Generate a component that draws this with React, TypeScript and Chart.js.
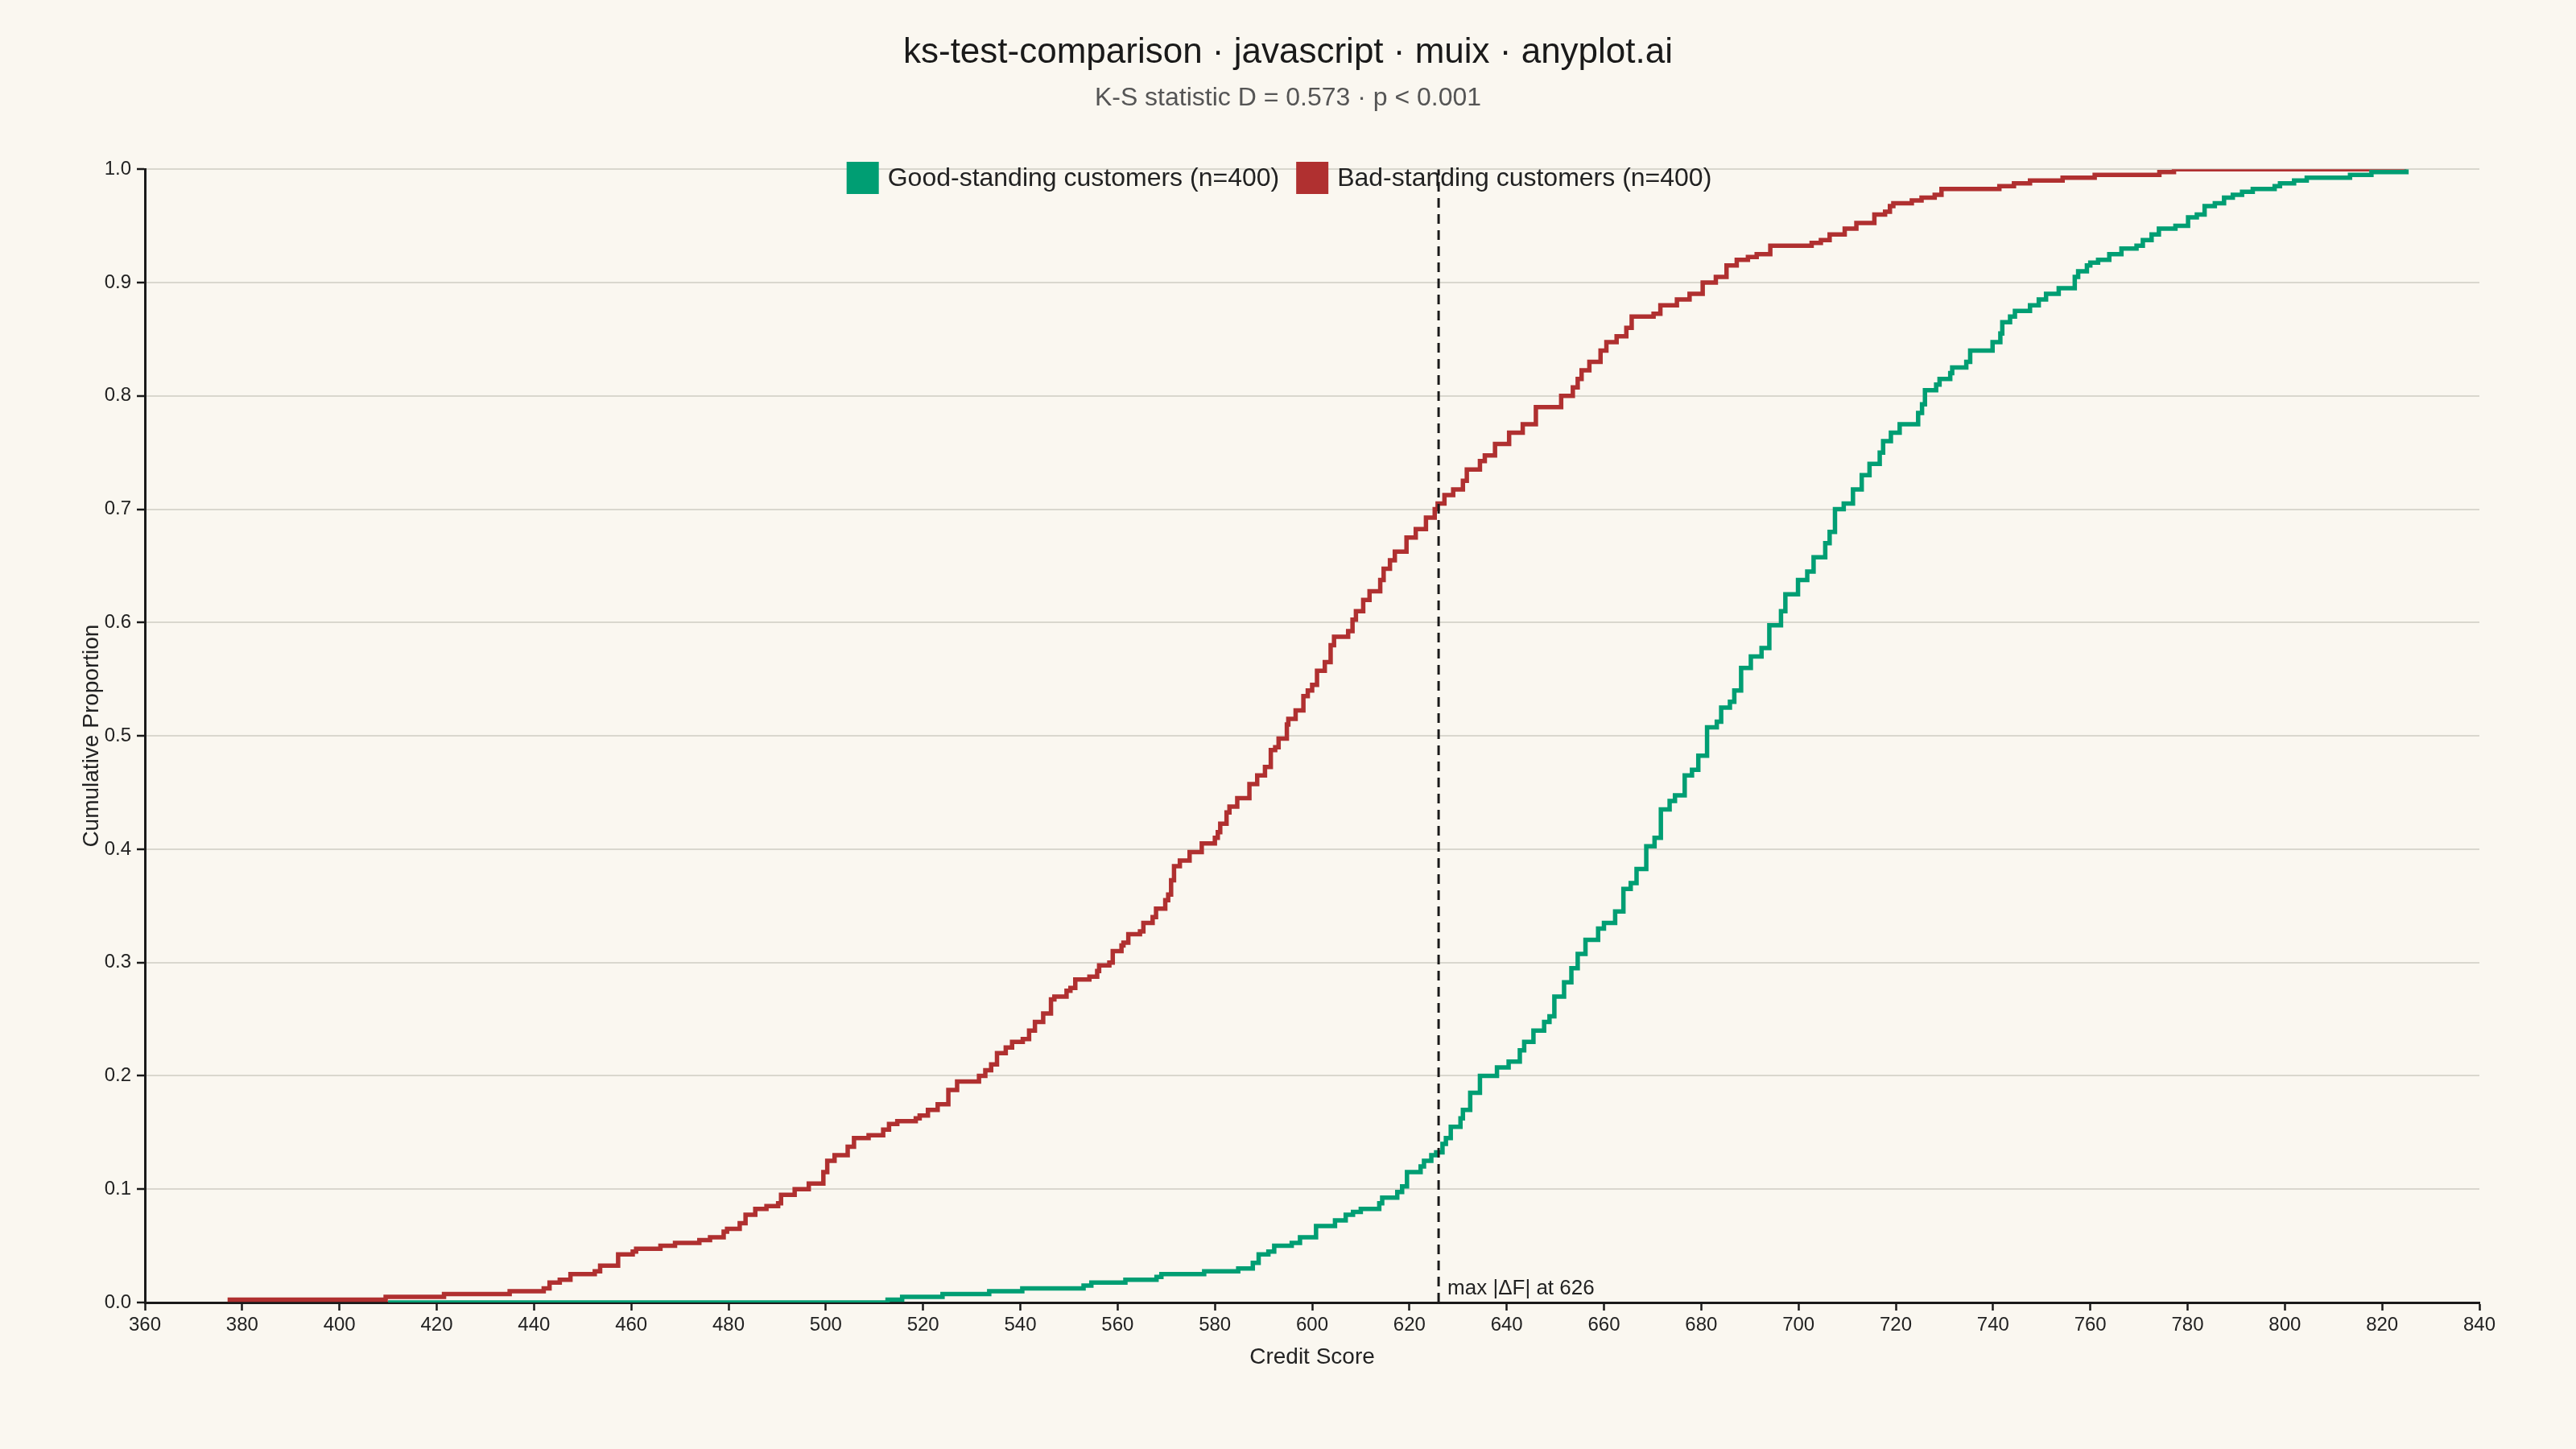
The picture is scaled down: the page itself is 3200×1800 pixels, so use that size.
import { useEffect, useRef } from "react";
import { Chart, registerables, Plugin } from "chart.js";

Chart.register(...registerables);

// Good-standing customers: credit score where the ECDF steps, and the proportion after the step
const goodScore = [
  410, 512.7, 515.7, 524, 533.6, 540.4, 553, 554.6, 561.6, 568, 569, 577.8, 584.8, 587.8, 589, 591,
  592.2, 595.8, 597.5, 600.8, 604.7, 606.9, 608.4, 610, 613.8, 614.4, 617.5, 618.5, 619.5, 622.3,
  623, 624.5, 625.5, 626.8, 627.5, 628.5, 630.5, 631, 632.5, 634.5, 638, 640.4, 642.7, 643.6, 645.5,
  647.7, 648.8, 649.8, 651.8, 653.3, 654.6, 656.2, 658.8, 660, 662.3, 664, 665.5, 666.7, 668.7,
  670.4, 671.7, 673.5, 674.6, 676.6, 678.1, 679.4, 681.2, 683.2, 684.1, 685.9, 686.8, 688.2, 690.2,
  692.4, 694, 696.4, 697.3, 699.9, 701.8, 703.1, 705.5, 706.4, 707.5, 709.3, 711.2, 713, 714.6,
  716.7, 717.4, 719, 720.8, 724.6, 725.4, 726, 728.3, 729, 731.2, 731.6, 734.5, 735.3, 739.9, 741.5,
  741.9, 743.5, 744.5, 747.6, 749.4, 750.9, 753.5, 756.8, 757.5, 759.3, 760, 761.6, 763.9, 766.4,
  769.5, 770.8, 772.6, 774.1, 777.5, 780.1, 781.9, 783.5, 785.6, 787.5, 789.3, 791.2, 793.4, 797.9,
  799, 801.9, 804.5, 813.4, 817.8, 825,
];
const goodCdf = [
  0, 0.0025, 0.005, 0.0075, 0.01, 0.0125, 0.015, 0.0175, 0.02, 0.0225, 0.025, 0.0275, 0.03, 0.035,
  0.0425, 0.045, 0.05, 0.0525, 0.0575, 0.0675, 0.0725, 0.0775, 0.08, 0.0825, 0.0875, 0.0925, 0.0975,
  0.1025, 0.115, 0.12, 0.125, 0.13, 0.1325, 0.14, 0.145, 0.155, 0.1625, 0.17, 0.185, 0.2, 0.2075,
  0.2125, 0.2225, 0.23, 0.24, 0.2475, 0.2525, 0.27, 0.2825, 0.295, 0.3075, 0.32, 0.33, 0.335, 0.345,
  0.365, 0.37, 0.3825, 0.4025, 0.41, 0.435, 0.4425, 0.4475, 0.465, 0.47, 0.4825, 0.5075, 0.5125,
  0.525, 0.53, 0.54, 0.56, 0.57, 0.5775, 0.5975, 0.61, 0.625, 0.6375, 0.645, 0.6575, 0.67, 0.68,
  0.7, 0.705, 0.7175, 0.73, 0.74, 0.75, 0.76, 0.7675, 0.775, 0.785, 0.7925, 0.805, 0.81, 0.815, 0.82,
  0.825, 0.83, 0.84, 0.8475, 0.855, 0.865, 0.87, 0.875, 0.88, 0.885, 0.89, 0.895, 0.905, 0.91, 0.915,
  0.9175, 0.92, 0.925, 0.93, 0.9325, 0.9375, 0.9425, 0.9475, 0.95, 0.9575, 0.96, 0.9675, 0.97, 0.975,
  0.9775, 0.98, 0.9825, 0.985, 0.9875, 0.99, 0.9925, 0.995, 0.9975, 1,
];

// Bad-standing customers
const badScore = [
  377, 409.5, 421.5, 435, 442, 443.2, 445.3, 447.5, 452.5, 453.6, 457.3, 460.3, 461, 466, 469, 474,
  476.2, 479, 479.7, 482.3, 483.5, 485.5, 487.8, 490.2, 490.8, 493.6, 496.5, 499.5, 500.3, 501.8,
  504.5, 505.8, 508.8, 511.8, 513, 514.7, 518.5, 519.3, 521, 523, 525.2, 527, 531.5, 532.8, 534,
  535.2, 537, 538.3, 540.5, 541.8, 543, 544.7, 546.3, 547, 549.5, 550.3, 551.3, 554.2, 555.8, 556.2,
  558.3, 559, 560.8, 561.2, 562.2, 564.6, 565.3, 567.2, 567.9, 569.8, 570.4, 571, 571.6, 572.8,
  574.8, 577.3, 580, 580.6, 581.1, 582.4, 583, 584.6, 587.1, 588.7, 590.3, 591.5, 592.4, 593.1,
  594.8, 595.1, 596.6, 598.2, 599.1, 600, 601, 602.6, 603.8, 604.5, 607.4, 608.3, 609, 610.5, 611.8,
  614, 614.7, 616, 617, 619.4, 621.3, 623.4, 625.2, 625.8, 627.2, 629, 631, 631.8, 634.5, 635.5,
  637.6, 640.5, 643.3, 646, 651.2, 653.6, 654.6, 655.4, 657, 659.3, 660.5, 662.6, 664.6, 665.7,
  670.2, 671.6, 675, 677.6, 680.3, 683, 685.2, 687.3, 689.6, 691.4, 694.2, 702.7, 704.6, 706.4,
  709.5, 711.9, 715.6, 717.8, 718.8, 719.5, 723.3, 725.3, 728, 729.4, 741.3, 744.3, 747.6, 754.3,
  760.9, 774.2, 777.2, 825,
];
const badCdf = [
  0.0025, 0.005, 0.0075, 0.01, 0.0125, 0.0175, 0.02, 0.025, 0.0275, 0.0325, 0.0425, 0.045, 0.0475,
  0.05, 0.0525, 0.055, 0.0575, 0.0625, 0.065, 0.07, 0.0775, 0.0825, 0.085, 0.0875, 0.095, 0.1, 0.105,
  0.115, 0.125, 0.13, 0.1375, 0.145, 0.1475, 0.1525, 0.1575, 0.16, 0.1625, 0.165, 0.17, 0.175,
  0.1875, 0.195, 0.2, 0.205, 0.21, 0.22, 0.225, 0.23, 0.2325, 0.24, 0.2475, 0.255, 0.2675, 0.27,
  0.275, 0.2775, 0.285, 0.2875, 0.2925, 0.2975, 0.3, 0.31, 0.315, 0.3175, 0.325, 0.3275, 0.335, 0.34,
  0.3475, 0.355, 0.36, 0.3725, 0.385, 0.39, 0.3975, 0.405, 0.41, 0.415, 0.4225, 0.4325, 0.4375,
  0.445, 0.4575, 0.465, 0.4725, 0.4875, 0.49, 0.4975, 0.51, 0.515, 0.5225, 0.535, 0.54, 0.545,
  0.5575, 0.565, 0.58, 0.5875, 0.5925, 0.6025, 0.61, 0.62, 0.6275, 0.6375, 0.6475, 0.655, 0.6625,
  0.675, 0.6825, 0.6925, 0.7, 0.705, 0.7125, 0.7175, 0.725, 0.735, 0.7425, 0.7475, 0.7575, 0.7675,
  0.775, 0.79, 0.8, 0.8075, 0.815, 0.8225, 0.83, 0.84, 0.8475, 0.8525, 0.86, 0.87, 0.8725, 0.88,
  0.885, 0.89, 0.9, 0.905, 0.915, 0.92, 0.9225, 0.925, 0.9325, 0.935, 0.9375, 0.9425, 0.9475, 0.9525,
  0.96, 0.9625, 0.9675, 0.97, 0.9725, 0.975, 0.9775, 0.9825, 0.985, 0.9875, 0.99, 0.9925, 0.995,
  0.9975, 1, 1,
];

// where the two ECDFs are furthest apart
const maxGapScore = 626;
const ksStat = "0.573";

const GREEN = "#009E73";
const RED = "#B03030";
const INK = "#1a1a1a";
const TEXT = "#222222";

const toPoints = (xs: number[], ys: number[]) => xs.map((x, i) => ({ x, y: ys[i] }));

// legend drawn inside the plot area, under the dashed marker line
const legendInChart: Plugin<"line"> = {
  id: "legendInChart",
  beforeDatasetsDraw(chart) {
    const ctx = chart.ctx;
    const items = chart.data.datasets.filter(d => d.label);
    ctx.save();
    ctx.font = '32px "Liberation Sans", Arial, sans-serif';
    ctx.textBaseline = "middle";
    const box = 40;
    const gapText = 11;
    const gapItem = 21;
    const widths = items.map(d => box + gapText + ctx.measureText(d.label as string).width);
    const total = widths.reduce((a, b) => a + b, 0) + gapItem * (items.length - 1);
    let x = 1589 - total / 2;
    const top = 201;
    items.forEach((d, i) => {
      ctx.fillStyle = d.borderColor as string;
      ctx.fillRect(x, top, box, box);
      ctx.fillStyle = TEXT;
      ctx.textAlign = "left";
      ctx.fillText(d.label as string, x + box + gapText, top + box / 2 + 1);
      x += widths[i] + gapItem;
    });
    ctx.restore();
  },
};

const gapLabel: Plugin<"line"> = {
  id: "gapLabel",
  afterDatasetsDraw(chart) {
    const { ctx, scales } = chart;
    const x = scales.x.getPixelForValue(maxGapScore);
    const y = scales.y.getPixelForValue(0);
    ctx.save();
    ctx.font = '26px "Liberation Sans", Arial, sans-serif';
    ctx.fillStyle = TEXT;
    ctx.textAlign = "left";
    ctx.textBaseline = "alphabetic";
    ctx.fillText(`max |ΔF| at ${maxGapScore}`, x + 11, y - 10);
    ctx.restore();
  },
};

export default function App() {
  const canvasRef = useRef<HTMLCanvasElement | null>(null);

  useEffect(() => {
    if (!canvasRef.current) return;
    Chart.defaults.font.family = '"Liberation Sans", Arial, sans-serif';
    Chart.defaults.color = TEXT;

    const chart = new Chart(canvasRef.current, {
      type: "line",
      data: {
        datasets: [
          {
            label: "",
            data: [
              { x: maxGapScore, y: 0 },
              { x: maxGapScore, y: 1 },
            ],
            borderColor: INK,
            borderWidth: 3,
            borderDash: [12, 8],
            pointRadius: 0,
            order: 0,
          },
          {
            label: "Good-standing customers (n=400)",
            data: toPoints(goodScore, goodCdf),
            borderColor: GREEN,
            backgroundColor: GREEN,
            borderWidth: 5.5,
            stepped: "before",
            pointRadius: 0,
            order: 1,
          },
          {
            label: "Bad-standing customers (n=400)",
            data: toPoints(badScore, badCdf),
            borderColor: RED,
            backgroundColor: RED,
            borderWidth: 5.5,
            stepped: "before",
            pointRadius: 0,
            order: 2,
          },
        ],
      },
      options: {
        animation: false,
        responsive: true,
        maintainAspectRatio: false,
        layout: { padding: 0 },
        plugins: {
          legend: { display: false },
          tooltip: { enabled: false },
          title: {
            display: true,
            text: "ks-test-comparison · javascript · muix · anyplot.ai",
            color: INK,
            font: { size: 44, weight: "normal" },
            padding: { top: 39, bottom: 0 },
          },
          subtitle: {
            display: true,
            text: `K-S statistic D = ${ksStat} · p < 0.001`,
            color: "#555555",
            font: { size: 32, weight: "normal" },
            padding: { top: 11, bottom: 69 },
          },
        },
        scales: {
          x: {
            type: "linear",
            min: 360,
            max: 840,
            afterFit: scale => {
              scale.height = 182;
            },
            ticks: {
              stepSize: 20,
              autoSkip: false,
              maxRotation: 0,
              padding: 4,
              color: TEXT,
              font: { size: 24 },
            },
            grid: {
              drawOnChartArea: false,
              drawTicks: true,
              tickLength: 10,
              tickColor: INK,
              tickWidth: 2.5,
            },
            border: { display: true, color: INK, width: 3 },
            title: {
              display: true,
              text: "Credit Score",
              color: TEXT,
              font: { size: 28 },
              padding: { top: 8, bottom: 97 },
            },
          },
          y: {
            type: "linear",
            min: 0,
            max: 1,
            afterFit: scale => {
              scale.width = 180;
            },
            ticks: {
              stepSize: 0.1,
              padding: 7,
              color: TEXT,
              font: { size: 24 },
              callback: v => Number(v).toFixed(1),
            },
            grid: {
              color: "#d9d7ce",
              lineWidth: 2,
              drawTicks: true,
              tickLength: 10,
              tickColor: INK,
              tickWidth: 2.5,
            },
            border: { display: true, color: INK, width: 3 },
            title: {
              display: true,
              text: "Cumulative Proportion",
              color: TEXT,
              font: { size: 28 },
              padding: { top: 97, bottom: 0 },
            },
          },
          // empty right margin so the titles stay centred on the whole canvas
          spacer: {
            type: "linear",
            position: "right",
            display: true,
            afterFit: scale => {
              scale.width = 120;
            },
            grid: { display: false },
            ticks: { display: false },
            border: { display: false },
          },
        },
      },
      plugins: [legendInChart, gapLabel],
    });

    return () => {
      chart.destroy();
    };
  }, []);

  return (
    <div style={{ position: "fixed", left: 0, top: 0, width: "100vw", height: "100vh", background: "#faf7f0" }}>
      <canvas ref={canvasRef} />
    </div>
  );
}
